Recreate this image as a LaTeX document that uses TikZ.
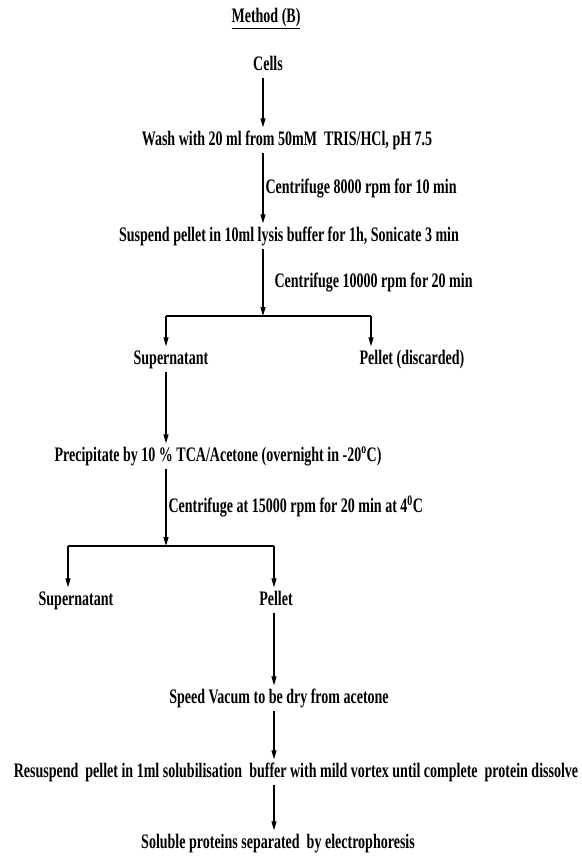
\documentclass[tikz,border=0pt]{standalone}
\usepackage{fontspec}
\setmainfont{Liberation Serif}[FakeStretch=0.68]
\usetikzlibrary{arrows.meta}
\begin{document}
\begin{tikzpicture}[x=1pt,y=-1pt,
    txt/.style={font=\bfseries\fontsize{20.6}{24}\selectfont, inner xsep=2pt, inner ysep=4pt, text height=14pt, text depth=3pt},
    lbl/.style={txt, right, inner ysep=0pt},
    flow/.style={-{Triangle[length=9pt,width=5pt]}, line width=1.1pt}]
  % page frame
  \useasboundingbox (0,0) rectangle (581,856);

  % spines and branch points
  \coordinate (s1) at (263,0);
  \coordinate (s2) at (166,0);
  \coordinate (s3) at (274,0);
  \coordinate (j1) at (263,316);
  \coordinate (j1l) at (166,316);
  \coordinate (j1r) at (371,316);
  \coordinate (j2) at (166,546);
  \coordinate (j2l) at (68,546);
  \coordinate (j2r) at (274,546);

  \node[txt] (title) at (266,17) {\underline{Method (B)}};
  \node[txt] (cells) at (268,65) {Cells};
  \node[txt] (wash) at (287,140) {Wash with 20 ml from 50mM\ \ TRIS/HCl, pH 7.5};
  \node[txt] (suspend) at (289,236) {Suspend pellet in 10ml lysis buffer for 1h, Sonicate 3 min};
  \node[txt] (sup1) at (171,359) {Supernatant};
  \node[txt] (pel1) at (412,359) {Pellet (discarded)};
  \node[txt] (precip) at (218,456) {Precipitate by 10 \% TCA/Acetone (overnight in -20\textsuperscript{o}C)};
  \node[txt] (sup2) at (76,600) {Supernatant};
  \node[txt] (pel2) at (276,600) {Pellet};
  \node[txt] (vacum) at (279,698) {Speed Vacum to be dry from acetone};
  \node[txt] (resusp) at (296,772) {Resuspend\ \ pellet in 1ml solubilisation\ \ buffer with mild vortex until complete\ \ protein dissolve};
  \node[txt] (soluble) at (278,843) {Soluble proteins separated\ \ by electrophoresis};

  \draw[flow] (cells.south -| s1) -- (wash.north -| s1);
  \draw[flow] (wash.south -| s1) -- node[lbl] {Centrifuge 8000 rpm for 10 min} (suspend.north -| s1);
  \draw[flow] (suspend.south -| s1) -- node[lbl, xshift=9pt] {Centrifuge 10000 rpm for 20 min} (j1);
  \draw[line width=1.1pt] (j1l) -- (j1r);
  \draw[flow] (j1l) -- (sup1.north -| j1l);
  \draw[flow] (j1r) -- (pel1.north -| j1r);

  \draw[flow] (sup1.south -| s2) -- (precip.north -| s2);
  \draw[flow] (precip.south -| s2) -- node[lbl] {Centrifuge at 15000 rpm for 20 min at 4\textsuperscript{0}C} (j2);
  \draw[line width=1.1pt] (j2l) -- (j2r);
  \draw[flow] (j2l) -- (sup2.north -| j2l);
  \draw[flow] (j2r) -- (pel2.north -| j2r);

  \draw[flow] (pel2.south -| s3) -- (vacum.north -| s3);
  \draw[flow] (vacum.south -| s3) -- (resusp.north -| s3);
  \draw[flow] (resusp.south -| s3) -- (soluble.north -| s3);
\end{tikzpicture}
\end{document}
